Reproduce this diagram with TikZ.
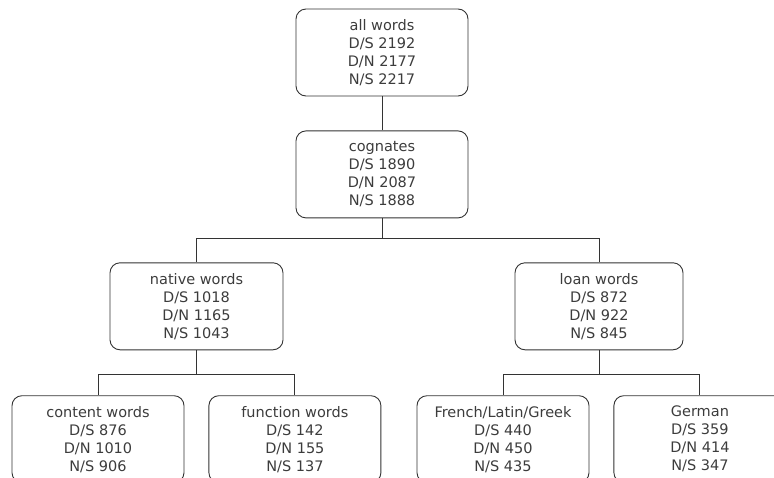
\documentclass[tikz,border=0pt]{standalone}
\usepackage{fontspec}
\setmainfont{DejaVu Sans}
\usepackage{tikz}
\usetikzlibrary{positioning}
\definecolor{boxline}{HTML}{333333}
\definecolor{boxtext}{HTML}{3C3C3C}

\begin{document}
\begin{tikzpicture}[x=1pt, y=1pt, wordbox/.style={draw=boxline, line width=0.9pt, rounded corners=10pt, minimum width=172pt, minimum height=87pt, align=center, inner sep=0pt, text=boxtext, font=\fontsize{14.5}{18}\selectfont}, branch/.style={draw=boxline, line width=0.9pt}]
    \clip (0,0) rectangle (774,-477);
    \node[wordbox] (all) at (382,-52.5) {all words\\D/S 2192\\D/N 2177\\N/S 2217};
    \node[wordbox, below=34pt of all] (cog) {cognates\\D/S 1890\\D/N 2087\\N/S 1888};
    \node[wordbox, below=44pt of cog, xshift=-185.5pt, minimum width=173pt] (native) {native words\\D/S 1018\\D/N 1165\\N/S 1043};
    \node[wordbox, below=44pt of cog, xshift=217pt, minimum width=168pt] (loan) {loan words\\D/S 872\\D/N 922\\N/S 845};
    \node[wordbox, below=45pt of native, xshift=-98.5pt] (content) {content words\\D/S 876\\D/N 1010\\N/S 906};
    \node[wordbox, right=24pt of content] (function) {function words\\D/S 142\\D/N 155\\N/S 137};
    \node[wordbox, below=45pt of loan, xshift=-96pt] (french) {French/Latin/Greek\\D/S 440\\D/N 450\\N/S 435};
    \node[wordbox, right=24pt of french] (german) {German\\D/S 359\\D/N 414\\N/S 347};
    % tree lines
    \path[branch] (all) -- (cog);
    \path[branch] (cog.south) -- ++(0,-20) -| (native.north);
    \path[branch] (cog.south) -- ++(0,-20) -| (loan.north);
    \path[branch] (native.south) -- ++(0,-24) -| (content.north);
    \path[branch] (native.south) -- ++(0,-24) -| (function.north);
    \path[branch] (loan.south) -- ++(0,-24) -| (french.north);
    \path[branch] (loan.south) -- ++(0,-24) -| (german.north);
\end{tikzpicture}
\end{document}
